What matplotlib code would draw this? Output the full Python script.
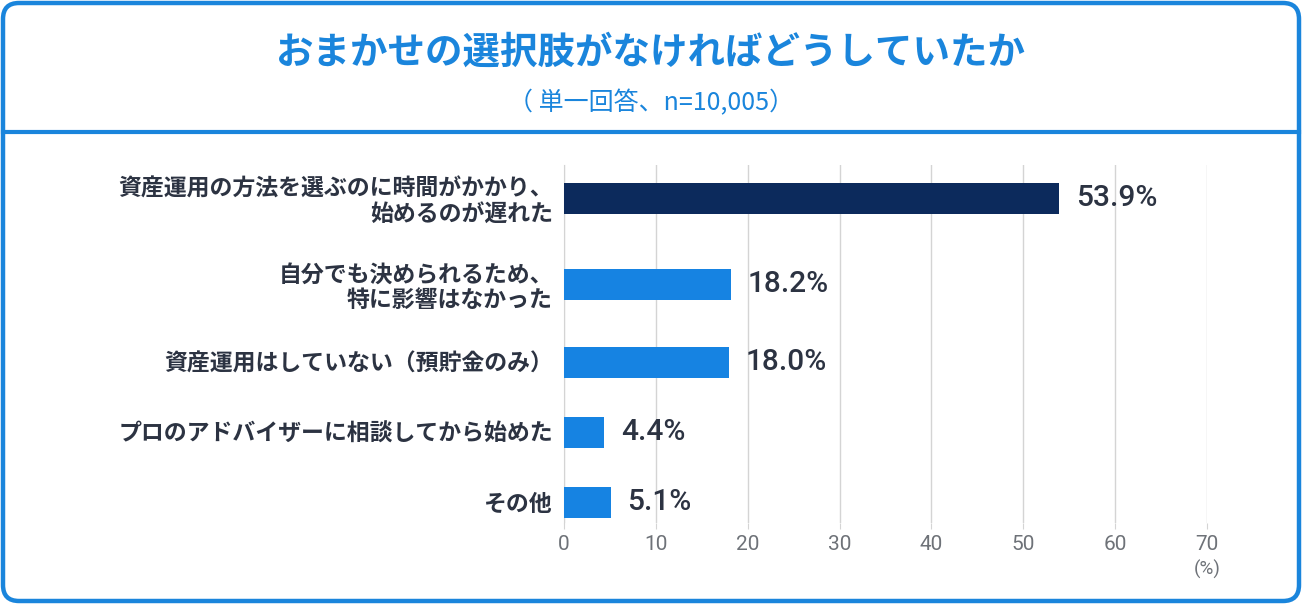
import matplotlib
matplotlib.use("Agg")
import matplotlib.pyplot as plt
from matplotlib.patches import FancyBboxPatch
from matplotlib.transforms import IdentityTransform
from matplotlib.lines import Line2D

plt.rcParams['font.family'] = ['Noto Sans CJK JP', 'DejaVu Sans']

title = "おまかせの選択肢がなければどうしていたか"
subtitle = "（ 単一回答、n=10,005）"
categories = [
    "資産運用の方法を選ぶのに時間がかかり、\n始めるのが遅れた",
    "自分でも決められるため、\n特に影響はなかった",
    "資産運用はしていない（預貯金のみ）",
    "プロのアドバイザーに相談してから始めた",
    "その他",
]
values = [53.9, 18.2, 18.0, 4.4, 5.1]
xticks = [0, 10, 20, 30, 40, 50, 60, 70]
unit_label = "(%)"

W, H = 1302, 604
fig = plt.figure(figsize=(W / 100, H / 100), dpi=100)

BLUE = "#1a85dc"
NAVY = "#0c2a5c"
BAR = "#1683e2"
TEXT = "#2c3342"
GRAY = "#6e7278"

# frame
frame = FancyBboxPatch((3, 3), W - 6, H - 6, boxstyle="round,pad=0,rounding_size=16",
                       transform=IdentityTransform(), facecolor="none",
                       edgecolor=BLUE, linewidth=3.2, zorder=5)
fig.patches.append(frame)
sep = Line2D([3, W - 3], [H - 132, H - 132], transform=IdentityTransform(),
             color=BLUE, linewidth=3.0, zorder=5)
fig.lines.append(sep)

fig.text(0.5, 1 - 52 / H, title, ha="center", va="center", fontsize=27,
         fontweight="bold", color=BLUE)
fig.text(0.5, 1 - 103 / H, subtitle, ha="center", va="center", fontsize=18,
         color=BLUE)

ax_l, ax_r, ax_t, ax_b = 564, 1207, 165, 523
ax = fig.add_axes([ax_l / W, 1 - ax_b / H, (ax_r - ax_l) / W, (ax_b - ax_t) / H])

# y positions derived from label line counts
lines = [c.count("\n") + 1 for c in categories]
ypos = [33]
for i in range(1, len(categories)):
    ypos.append(ypos[-1] + 70 + 8 * (lines[i - 1] + lines[i] - 2))

colors = [NAVY] + [BAR] * (len(values) - 1)
ax.barh(ypos, values, height=31, color=colors, zorder=3)
ax.set_ylim(ax_b - ax_t, 0)
ax.set_xlim(0, 70)
ax.set_yticks(ypos)
ax.set_yticklabels(categories, fontsize=16.5, fontweight="bold", color=TEXT,
                   linespacing=1.15)
ax.tick_params(axis="y", length=0, pad=8)
ax.set_xticks(xticks)
ax.set_xticklabels([str(t) for t in xticks], fontsize=15, color=GRAY,
                   family=["Roboto", "DejaVu Sans"])
ax.tick_params(axis="x", length=4, color="#d4d4d4", pad=5)
ax.grid(axis="x", color="#d4d4d4", linewidth=1, zorder=0)
for s in ["top", "right", "bottom"]:
    ax.spines[s].set_visible(False)
ax.spines["left"].set_color("#d4d4d4")

for y, v in zip(ypos, values):
    ax.annotate(f"{v:.1f}%", (v, y), xytext=(12, 0), textcoords="offset points",
                ha="left", va="center", fontsize=21.5, color=TEXT,
                family=["Roboto", "DejaVu Sans"], fontweight="medium", zorder=4)

fig.text(ax_r / W, 1 - 569 / H, unit_label, ha="center", va="center",
         fontsize=13.5, color=GRAY, family=["Roboto", "DejaVu Sans"])

fig.savefig("out.png", dpi=100)
